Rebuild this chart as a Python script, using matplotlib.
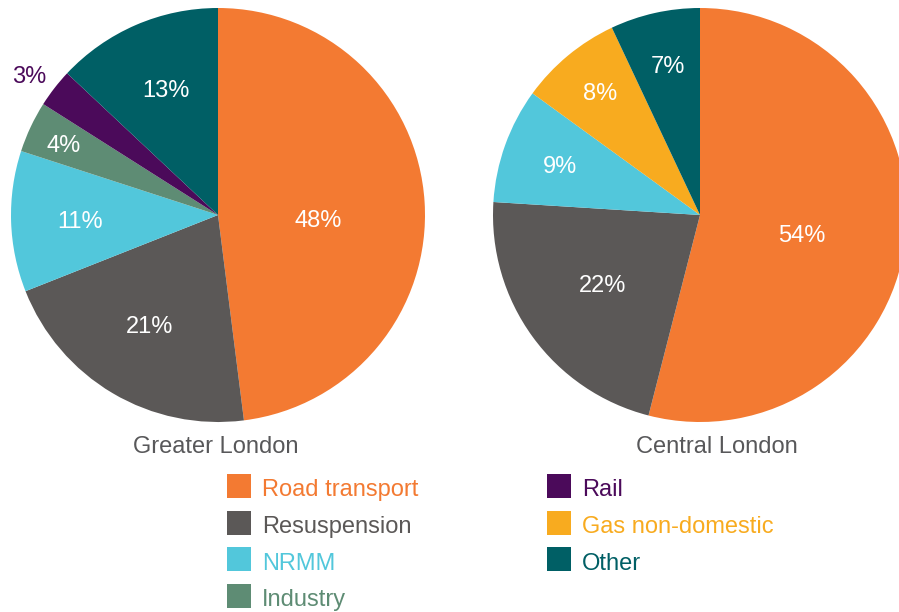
import matplotlib
matplotlib.use("Agg")
import matplotlib.pyplot as plt
import numpy as np
from matplotlib.patches import Rectangle
from matplotlib.transforms import offset_copy

plt.rcParams['font.family'] = ['Liberation Sans', 'DejaVu Sans']

# Data
greater_labels = ["Road transport", "Resuspension", "NRMM", "Industry", "Rail", "Other"]
greater_values = [48, 21, 11, 4, 3, 13]
central_labels = ["Road transport", "Resuspension", "NRMM", "Gas non-domestic", "Other"]
central_values = [54, 22, 9, 8, 7]
titles = ["Greater London", "Central London"]
legend_col1 = ["Road transport", "Resuspension", "NRMM", "Industry"]
legend_col2 = ["Rail", "Gas non-domestic", "Other"]

colors = {
    "Road transport": "#F37A32",
    "Resuspension": "#5B5857",
    "NRMM": "#52C7DB",
    "Industry": "#5E8C74",
    "Rail": "#4B0A5A",
    "Gas non-domestic": "#F8AB1F",
    "Other": "#005F65",
}
# label placement (style): radius fraction and angle in degrees
greater_label_pos = [(0.486, -2.3), (0.626, -121.9), (0.669, 182.1),
                     (0.822, 155.2), (1.134, 143.4), (0.661, 112.3)]
central_label_pos = [(0.501, -10.3), (0.575, -144.6), (0.716, 160.3),
                     (0.768, 129.0), (0.744, 102.2)]

W, H = 899, 612
FS = 17
CAP_HALF = 0.688 * FS * 100 / 72 / 2  # half cap height in px
fig = plt.figure(figsize=(W / 100, H / 100), dpi=100)

def px_axes(cx, cy, r):
    return fig.add_axes([(cx - r) / W, (H - cy - r) / H, 2 * r / W, 2 * r / H])

text_gray = "#58585A"

def draw_pie(ax, labels, values, label_pos):
    cols = [colors[l] for l in labels]
    ax.pie(values, colors=cols, startangle=90, counterclock=False,
           radius=1, wedgeprops=dict(linewidth=0))
    tr = offset_copy(ax.transData, fig=fig, x=0, y=-CAP_HALF, units="dots")
    for v, (lr, a), lab in zip(values, label_pos, labels):
        ang = np.deg2rad(a)
        x, y = lr * np.cos(ang), lr * np.sin(ang)
        c = "white" if lr < 1 else colors[lab]
        ax.text(x, y, f"{v}%", ha="center", va="baseline", color=c,
                fontsize=FS, transform=tr)
    ax.set_xlim(-1, 1)
    ax.set_ylim(-1, 1)
    ax.set_aspect("equal")
    ax.axis("off")

ax1 = px_axes(218, 215, 207)
draw_pie(ax1, greater_labels, greater_values, greater_label_pos)
ax2 = px_axes(700, 215, 207)
draw_pie(ax2, central_labels, central_values, central_label_pos)

fig.text(216 / W, 1 - 453 / H, titles[0], ha="center", va="baseline", fontsize=FS, color=text_gray)
fig.text(717 / W, 1 - 453 / H, titles[1], ha="center", va="baseline", fontsize=FS, color=text_gray)

def legend_col(items, x_sq, x_txt, y0, dy):
    for i, lab in enumerate(items):
        yc = y0 + i * dy
        fig.add_artist(Rectangle((x_sq / W, 1 - (yc + 12) / H), 24 / W, 24 / H,
                                 transform=fig.transFigure, color=colors[lab], lw=0))
        fig.text(x_txt / W, 1 - (yc + 2 + CAP_HALF) / H, lab, ha="left", va="baseline",
                 fontsize=FS, color=colors[lab])

legend_col(legend_col1, 227, 262, 486, 36.7)
legend_col(legend_col2, 547, 582, 486, 36.7)

fig.savefig("out.png", dpi=100)
